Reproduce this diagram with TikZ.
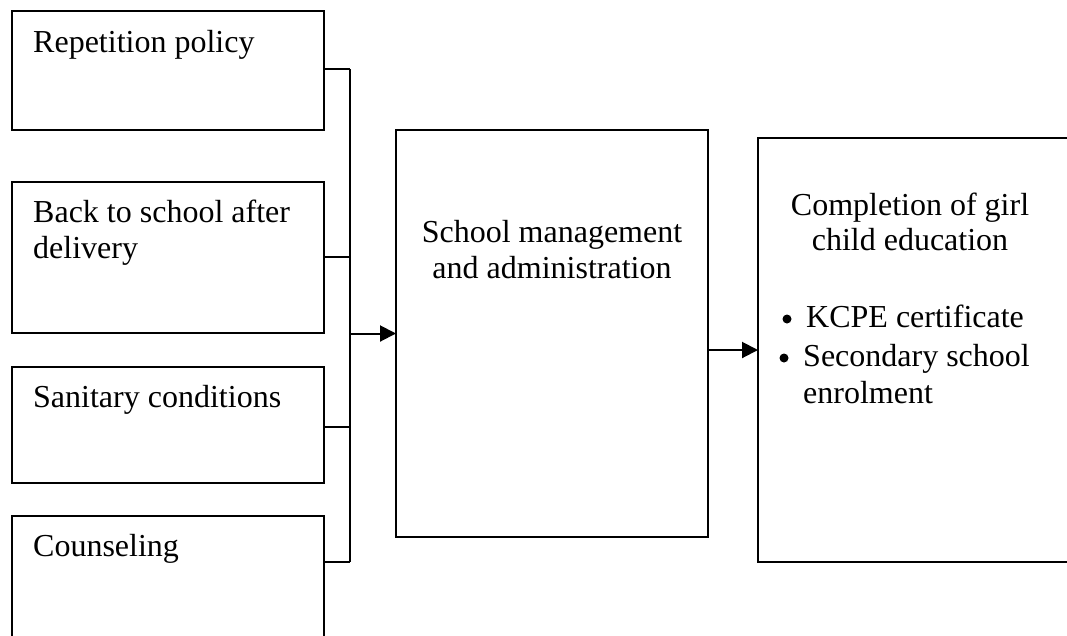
\documentclass[tikz,border=0pt]{standalone}
\usepackage{fontspec}
\setmainfont{Liberation Serif}
\usetikzlibrary{arrows.meta}
\begin{document}
\begin{tikzpicture}[x=1pt,y=-1pt,
  box/.style={draw=black, line width=2pt, rectangle, inner sep=0pt, outer sep=0pt, anchor=north west},
  txt/.style={font=\fontsize{32}{36}\selectfont, inner sep=0pt, anchor=base west},
  ctxt/.style={font=\fontsize{32}{36}\selectfont, inner sep=0pt, anchor=base},
  dot/.style={circle, fill=black, inner sep=0pt, minimum size=9pt},
  line/.style={draw=black, line width=2pt},
  arr/.style={draw=black, line width=2pt, -{Triangle[length=16pt,width=16pt]}}]
\useasboundingbox (0,0) rectangle (1067,635);
\clip (0,0) rectangle (1067,635);
% left boxes
\node[box, minimum width=312pt, minimum height=119pt] (b1) at (12,11) {};
\node[box, minimum width=312pt, minimum height=151pt] (b2) at (12,182) {};
\node[box, minimum width=312pt, minimum height=116pt] (b3) at (12,367) {};
\node[box, minimum width=312pt, minimum height=160pt] (b4) at (12,516) {};
% middle and right boxes
\node[box, minimum width=312pt, minimum height=407pt] (mid) at (396,130) {};
\node[box, minimum width=340pt, minimum height=424pt] (res) at (758,138) {};
% texts
\node[txt] (t1) at (33,52) {Repetition policy};
\node[txt] (t2a) at (33,222) {Back to school after};
\node[txt] (t2b) at (33,258) {delivery};
\node[txt] (t3) at (33,407) {Sanitary conditions};
\node[txt] (t4) at (33,556) {Counseling};
\node[ctxt] (m1) at (552,242) {School management};
\node[ctxt] (m2) at (552,278) {and administration};
\node[ctxt] (r1) at (910,215) {Completion of girl};
\node[ctxt] (r2) at (910,250) {child education};
\node[dot] (k1) at (787,319) {};
\node[txt] (k1t) at (806,327) {KCPE certificate};
\node[dot] (k2) at (784,358) {};
\node[txt] (k2t) at (803,366) {Secondary school};
\node[txt] (k3t) at (803,403) {enrolment};
% connectors
\coordinate (bus) at (350,0);
\coordinate (c1) at (324,69);
\coordinate (c2) at (324,257);
\coordinate (c3) at (324,427);
\coordinate (c4) at (324,562);
\draw[line] (c1) -- (c1 -| bus);
\draw[line] (c2) -- (c2 -| bus);
\draw[line] (c3) -- (c3 -| bus);
\draw[line] (c4) -- (c4 -| bus);
\draw[line] (c1 -| bus) -- (c4 -| bus);
\draw[arr] (bus |- mid.west) -- (mid.west);
\draw[arr] (res.west -| mid.east) -- (res.west);
\end{tikzpicture}
\end{document}
